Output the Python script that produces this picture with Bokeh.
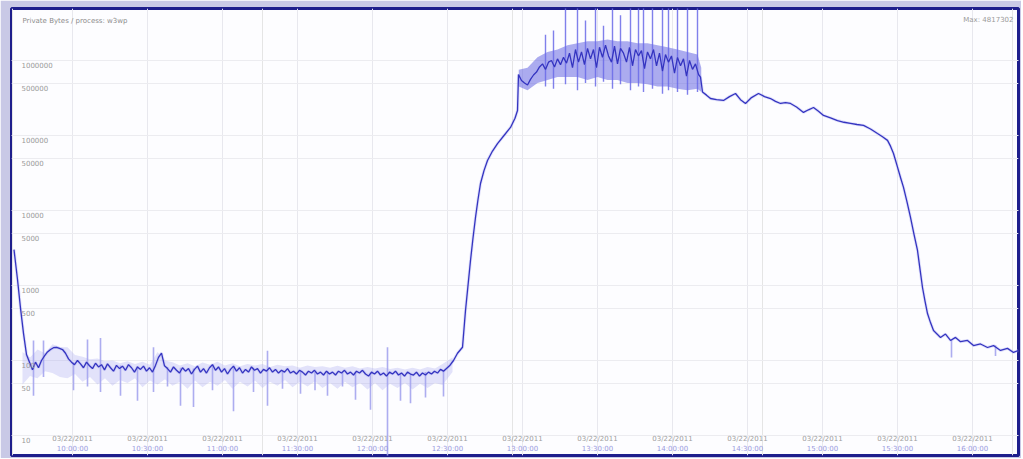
from bokeh.plotting import figure
from bokeh.models import Range1d, Grid, FixedTicker
from bokeh.core.properties import value
from bokeh.embed import file_html
from bokeh.resources import INLINE

# ---- data (minutes since start, counter value on log scale) ----
t = [0.6, 2.0, 3.2, 4.4, 5.6, 6.8, 8.0, 9.2, 10.4, 11.6, 12.8, 14.0, 15.2, 16.4, 17.6, 18.8, 20.0,
     21.2, 22.4, 23.6, 24.8, 26.0, 27.2, 28.4, 29.6, 30.8, 32.0, 33.2, 34.4, 35.6, 36.8, 38.0, 39.2,
     40.4, 41.6, 42.8, 44.0, 45.2, 46.4, 47.6, 48.8, 50.0, 51.2, 52.4, 53.6, 54.8, 56.0, 57.2, 58.4,
     59.6, 60.8, 62.0, 63.2, 64.4, 65.6, 66.8, 68.0, 69.2, 70.4, 71.6, 72.8, 74.0, 75.2, 76.4, 77.6,
     78.8, 80.0, 81.2, 82.4, 83.6, 84.8, 86.0, 87.2, 88.4, 89.6, 90.8, 92.0, 93.2, 94.4, 95.6, 96.8,
     98.0, 99.2, 100.4, 101.6, 102.8, 104.0, 105.2, 106.4, 107.6, 108.8, 110.0, 111.2, 112.4, 113.6,
     114.8, 116.0, 117.2, 118.4, 119.6, 120.8, 122.0, 123.2, 124.4, 125.6, 126.8, 128.0, 129.2, 130.4,
     131.6, 132.8, 134.0, 135.2, 136.4, 137.6, 138.8, 140.0, 141.2, 142.4, 143.6, 144.8, 146.0, 147.2,
     148.4, 149.6, 150.8, 152.0, 153.2, 154.4, 155.6, 156.8, 158.0, 159.2, 160.4, 161.6, 162.8, 164.0,
     165.2, 166.4, 167.6, 168.8, 170.0, 171.2, 172.4, 174.8, 176.4, 178.0, 180.0, 181.2, 182.2, 183.2,
     184.2, 185.2, 186.2, 187.2, 188.6, 190.0, 192.0, 194.0, 196.6, 199.2, 201.0, 202.0,
     202.4, 203.6, 204.8, 206.0, 207.2, 208.4, 209.6, 210.8, 212.0, 213.2, 214.4, 215.6, 216.8, 218.0,
     219.2, 220.4, 221.6, 222.8, 224.0, 225.2, 226.4, 227.6, 228.8, 230.0, 231.2, 232.4, 233.6, 234.8,
     236.0, 237.2, 238.4, 239.6, 240.8, 242.0, 243.2, 244.4, 245.6, 246.8, 248.0, 249.2, 250.4, 251.6,
     252.8, 254.0, 255.2, 256.4, 257.6, 258.8, 260.0, 261.2, 262.4, 263.6, 264.8, 266.0, 267.2, 268.4,
     269.6, 270.8, 272.0, 273.2, 274.4, 275.2, 276.0,
     277.6, 279.2, 281.6, 284.4, 286.8, 289.2, 291.2, 293.2, 295.6, 298.4, 300.8, 303.2, 305.2, 307.2,
     309.2, 311.2, 313.6, 316.4, 318.4, 320.4, 322.4, 324.4, 327.2, 330.0, 332.6, 335.2, 337.8, 340.4,
     343.2, 346.0, 348.0, 350.0, 351.2, 352.4, 353.8, 355.2, 356.4, 357.8, 359.2, 360.6, 362.0, 363.0,
     364.0, 365.0, 366.0, 367.2, 368.4, 371.2, 373.2, 375.2, 377.2, 379.2, 382.0, 384.4, 387.2, 390.0,
     392.4, 395.2, 398.0, 400.4, 402.4]
v = [3000, 1200, 500, 230, 120, 95, 75, 95, 80, 100, 115, 130, 140, 148, 150, 145, 140,
     125, 105, 95, 88, 100, 90, 80, 95, 85, 78, 92, 82, 88, 75, 90, 80,
     72, 86, 78, 84, 74, 88, 80, 70, 82, 76, 84, 72, 80, 70, 86, 110,
     125, 85, 78, 70, 82, 74, 68, 80, 72, 78, 66, 76, 84, 70, 78, 68,
     80, 88, 74, 82, 70, 78, 66, 76, 84, 72, 80, 68, 76, 70, 82, 74,
     78, 68, 76, 72, 80, 70, 76, 68, 74, 70, 78, 68, 72, 66,
     74, 70, 64, 72, 68, 74, 66, 70, 64, 72, 66, 70, 64, 72,
     68, 74, 66, 70, 64, 72, 68, 74, 66, 62, 70, 66, 72, 64,
     68, 62, 70, 66, 72, 64, 68, 62, 70, 66, 64, 70, 62, 68,
     64, 70, 66, 72, 68, 76, 72, 85, 100, 125, 150, 464, 1000, 2150,
     4300, 8070, 14000, 22900, 34000, 46400, 62000, 78000, 100000, 128000, 170000, 215000,
     650000, 540000, 500000, 470000, 560000, 640000, 700000, 820000, 900000, 760000, 950000, 1000000, 820000, 1050000,
     880000, 1100000, 920000, 1250000, 800000, 1400000, 950000, 1300000, 880000, 1450000, 1050000, 1400000, 800000, 1500000,
     1100000, 1600000, 1150000, 950000, 1550000, 900000, 1450000, 1250000, 950000, 1500000, 850000, 1400000, 1150000, 1350000,
     780000, 1300000, 1050000, 1400000, 850000, 1250000, 720000, 1200000, 950000, 1150000, 680000, 1100000, 850000, 1050000,
     620000, 1000000, 760000, 900000, 650000, 600000, 380000,
     345000, 311000, 300000, 293000, 330000, 363000, 300000, 267000, 320000, 363000, 330000, 311000, 285000, 267000,
     275000, 267000, 240000, 203000, 220000, 236000, 210000, 185000, 172000, 158000, 150000, 145000, 140000, 136000,
     122000, 106000, 96000, 86000, 72000, 57500, 40000, 27500, 20300, 13000, 8070, 4800, 2930, 1650,
     940, 620, 423, 320, 251, 203, 225, 185, 203, 178, 185, 158, 166, 149,
     158, 136, 145, 128, 136]

# light noise band around the idle period
band_t = [4, 7, 10, 13, 16, 19, 22, 25, 28, 31, 34, 37, 40, 43, 46, 49, 52, 55, 58, 61, 64, 67, 70,
          73, 76, 79, 82, 85, 88, 91, 94, 97, 100, 103, 106, 109, 112, 115, 118, 121, 124, 127, 130,
          133, 136, 139, 142, 145, 148, 151, 154, 157, 160, 163, 166, 169, 172, 176]
band_hi = [130, 110, 140, 125, 165, 150, 150, 118, 112, 104, 106, 98, 100, 92, 98, 90, 96, 88, 130,
           100, 95, 86, 92, 84, 94, 88, 96, 86, 92, 84, 90, 86, 90, 82, 88, 84, 86, 80, 86, 82, 84,
           80, 85, 80, 84, 78, 82, 78, 82, 77, 80, 76, 80, 76, 82, 78, 90, 110]
band_lo = [48, 62, 58, 72, 68, 60, 58, 66, 52, 60, 48, 58, 46, 55, 50, 58, 44, 54, 48, 56, 46, 52,
           42, 54, 44, 52, 46, 55, 42, 52, 45, 54, 43, 52, 46, 55, 44, 52, 45, 53, 43, 50, 42, 52,
           44, 50, 41, 50, 40, 49, 43, 50, 41, 49, 43, 50, 47, 70]

# dense band in the busy period
hb_t = [202.5, 206, 210, 214, 218, 222, 226, 230, 234, 238, 242, 246, 250, 254, 258, 262, 266, 270, 274, 275.5]
hb_hi = [750000, 800000, 1100000, 1300000, 1400000, 1600000, 1700000, 1800000, 1800000, 1900000,
         1800000, 1800000, 1700000, 1700000, 1600000, 1500000, 1400000, 1300000, 1200000, 800000]
hb_lo = [450000, 400000, 500000, 550000, 600000, 600000, 600000, 550000, 600000, 550000,
         550000, 500000, 500000, 480000, 450000, 450000, 420000, 400000, 420000, 380000]

# downward excursions (min envelope)
dip_t = [8.4, 12.4, 24.4, 30.0, 35.2, 43.2, 50.0, 56.4, 62.0, 67.2, 72.4, 80.0, 88.4, 96.4, 102.0,
         108.0, 115.2, 121.0, 126.0, 132.0, 137.2, 143.2, 150.0, 155.2, 159.2, 165.2, 172.4, 375.6, 393.2]
dip_hi = [185, 185, 95, 190, 200, 86, 84, 150, 82, 80, 78, 88, 84, 80, 135,
          74, 72, 70, 72, 68, 70, 66, 150, 68, 66, 70, 72, 190, 160]
dip_lo = [34, 60, 40, 45, 38, 34, 29, 38, 45, 25, 24, 40, 21, 38, 25,
          42, 36, 40, 34, 45, 30, 22, 4, 29, 27, 32, 33, 110, 115]

# upward spikes (max envelope) in the busy period
peak_t = [213.2, 216.4, 221.2, 226.0, 229.2, 233.2, 236.4, 240.0, 243.2, 247.2, 250.4, 252.4,
          256.0, 260.0, 262.4, 266.0, 270.0, 274.0]
peak_lo = [450000, 420000, 480000, 400000, 500000, 450000, 520000, 420000, 480000, 400000, 450000,
           380000, 420000, 360000, 400000, 380000, 350000, 380000]
peak_hi = [2.2e6, 2.5e6, 6e6, 6e6, 3.4e6, 6e6, 2.9e6, 6e6, 4e6, 6e6, 6e6, 6e6,
           6e6, 6e6, 6e6, 6e6, 6e6, 6e6]

# axes / labels
x_ticks = [24, 54, 84, 114, 144, 174, 204, 234, 264, 294, 324, 354, 384]
x_dates = ["03/22/2011"] * 13
x_times = ["10:00:00", "10:30:00", "11:00:00", "11:30:00", "12:00:00", "12:30:00", "13:00:00",
           "13:30:00", "14:00:00", "14:30:00", "15:00:00", "15:30:00", "16:00:00"]
y_ticks = [10, 50, 100, 500, 1000, 5000, 10000, 50000, 100000, 500000, 1000000]
y_labels = ["10", "50", "100", "500", "1000", "5000", "10000", "50000", "100000", "500000", "1000000"]
title_text = "Private Bytes / process: w3wp"
corner_text = "Max: 4817302"

X0, X1 = -0.4, 402.4
Y0, Y1 = 5.41, 4.93e6

p = figure(width=1021, height=458, x_range=Range1d(X0, X1), y_range=Range1d(Y0, Y1),
           y_axis_type="log", x_axis_location=None, y_axis_location=None,
           output_backend="svg", toolbar_location=None,
           min_border_left=11, min_border_right=3, min_border_top=8, min_border_bottom=3)
p.background_fill_color = "#fdfdff"
p.border_fill_color = "#c9c9e6"
p.outline_line_color = "#1e1e8c"
p.outline_line_width = 3

p.add_layout(Grid(dimension=0, ticker=FixedTicker(ticks=x_ticks), grid_line_color="#e8e8ee"))
p.add_layout(Grid(dimension=1, ticker=FixedTicker(ticks=y_ticks), grid_line_color="#ececf0"))

font = value("DejaVu Sans")

# envelopes
p.varea(x=band_t, y1=band_lo, y2=band_hi, fill_color="#b0b0f2", fill_alpha=0.35)
p.varea(x=hb_t, y1=hb_lo, y2=hb_hi, fill_color="#5a5ae0", fill_alpha=0.5)
p.segment(x0=dip_t, y0=dip_hi, x1=dip_t, y1=dip_lo, line_color="#a4a4ee", line_width=1.6, line_alpha=0.9)
p.segment(x0=peak_t, y0=peak_lo, x1=peak_t, y1=peak_hi, line_color="#6a6ae8", line_width=1.4, line_alpha=0.85)

# main series: halo + core
p.line(t, v, line_color="#a8a8f0", line_width=3, line_alpha=0.35)
p.line(t, v, line_color="#3434c0", line_width=1.3)

# y tick labels inside the frame
p.text(x=[X0] * len(y_ticks), y=y_ticks, text=y_labels, x_offset=10, y_offset=5,
       text_font=font, text_font_size="7px", text_color="#9a9a9a", text_baseline="middle")

# x tick labels (two lines) inside the frame
p.text(x=x_ticks, y=[Y0] * len(x_ticks), text=x_dates, y_offset=-17,
       text_font=font, text_font_size="7px", text_color="#a0a0a0",
       text_align="center", text_baseline="middle")
p.text(x=x_ticks, y=[Y0] * len(x_ticks), text=x_times, y_offset=-7,
       text_font=font, text_font_size="7px", text_color="#9a9ae0",
       text_align="center", text_baseline="middle")

# title / corner note
p.text(x=[X0], y=[Y1], text=[title_text], x_offset=11, y_offset=12,
       text_font=font, text_font_size="7px", text_color="#8c8c8c", text_baseline="middle")
p.text(x=[X1], y=[Y1], text=[corner_text], x_offset=-5, y_offset=11,
       text_font=font, text_font_size="7px", text_color="#9a9a9a",
       text_align="right", text_baseline="middle")

open("out.html", "w").write(file_html(p, INLINE))
